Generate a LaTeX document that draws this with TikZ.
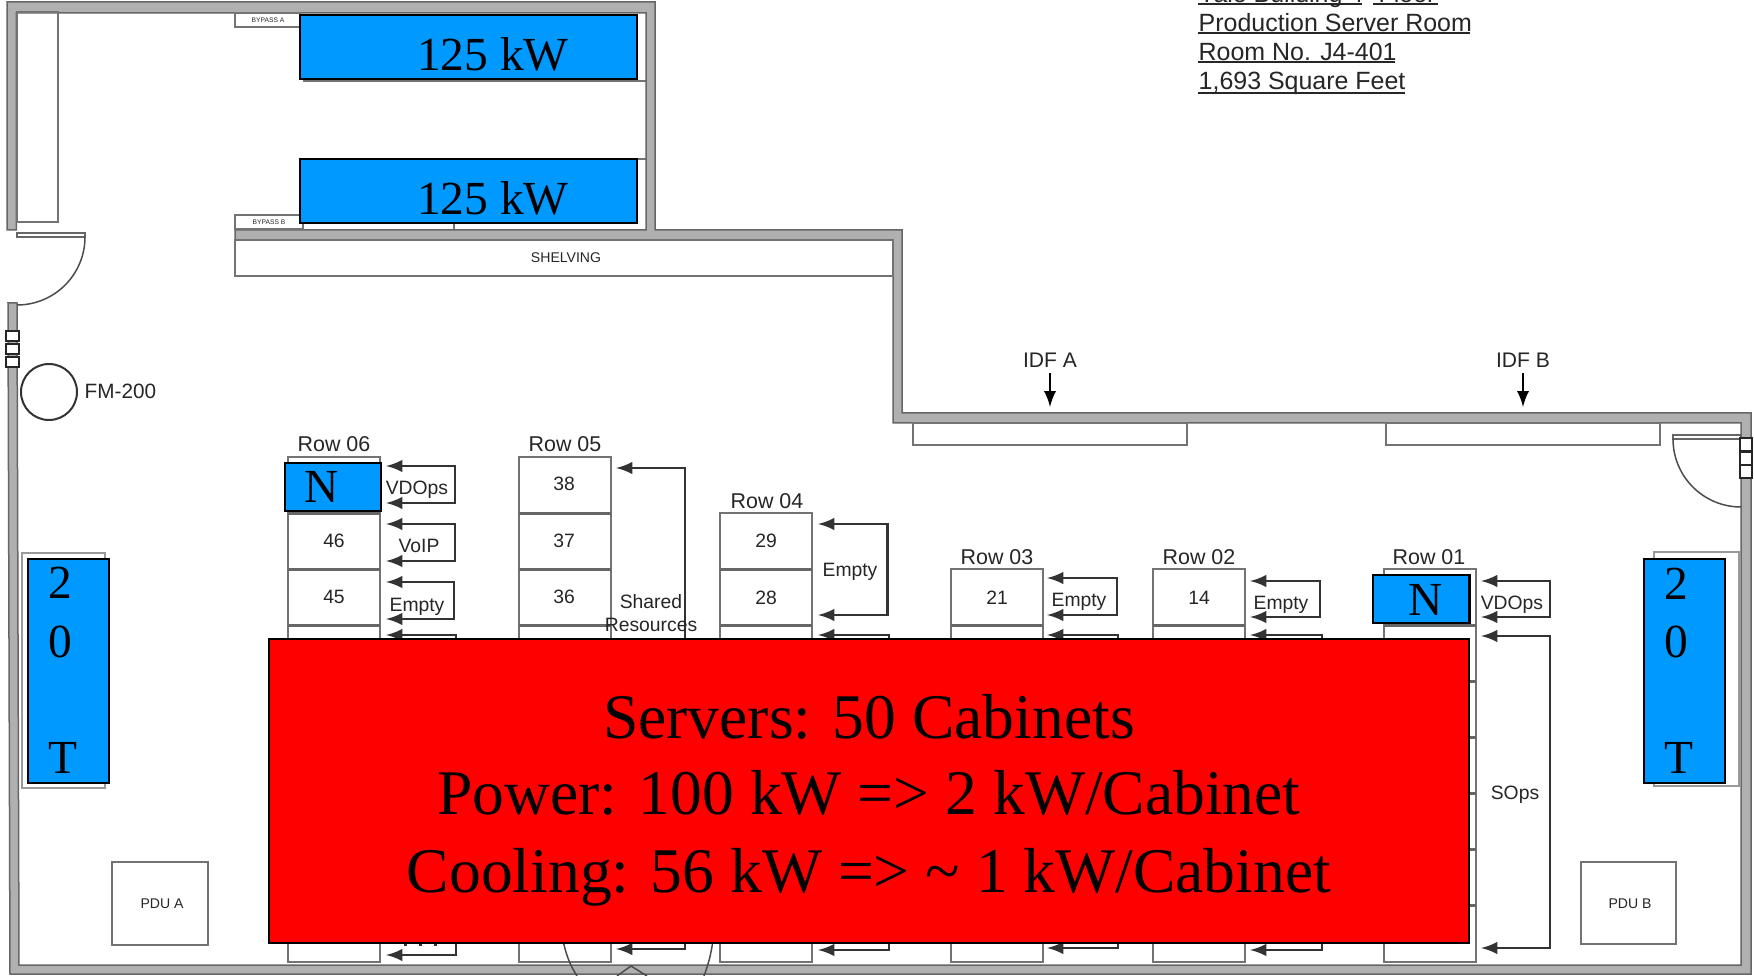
\documentclass[tikz,border=0pt]{standalone}
\usepackage{fontspec}
\setmainfont{Liberation Sans}
\newfontfamily\serifface{Liberation Serif}
\definecolor{wallgray}{HTML}{B0B0B0}
\definecolor{coolblue}{HTML}{0099FF}
\tikzset{
	label/.style={inner sep=0pt, text=black!85, font=\fontsize{5.5}{6.5}\selectfont},
	rowlabel/.style={label, font=\fontsize{6.1}{7}\selectfont},
	titlelabel/.style={label, anchor=base west, font=\fontsize{7.1}{8}\selectfont},
	bigtext/.style={inner sep=0pt, anchor=base, text=black, font=\serifface\fontsize{13.5}{15}\selectfont},
	redtext/.style={inner sep=0pt, anchor=base, text=black, font=\serifface\fontsize{18.1}{21}\selectfont},
	thinline/.style={line width=0.25mm, color=black!55},
	feed/.style={line width=0.22mm, color=black!80, latex-latex},
	coolbox/.style={fill=coolblue, draw=black, line width=0.22mm}
}

\begin{document}
\begin{tikzpicture}[y=-1cm]
	%%%%% START %%%%%
	\useasboundingbox (0, 0) rectangle (17.54, 9.76);
	\fill[white] (0, 0) rectangle (17.54, 9.76);

	% walls
	\draw[line width=0.15mm, color=black!60, fill=wallgray]
		(0.07, 2.30) -- (0.07, 0.02) -- (6.55, 0.02) -- (6.55, 2.30) -- (9.02, 2.30) -- (9.02, 4.13)
		-- (17.51, 4.13) -- (17.51, 9.74) -- (0.10, 9.74) -- (0.08, 3.03) -- (0.17, 3.03) -- (0.19, 9.65)
		-- (17.41, 9.65) -- (17.41, 4.23) -- (8.93, 4.23) -- (8.93, 2.40) -- (2.35, 2.40) -- (2.35, 2.30)
		-- (6.46, 2.30) -- (6.46, 0.13) -- (0.165, 0.13) -- (0.165, 2.30) -- cycle;

	% upper room
	\draw[thinline] (0.17, 0.12) rectangle (0.58, 2.22);
	\draw[thinline] (2.35, 0.13) rectangle (3.00, 0.27);
	\draw[thinline] (2.35, 2.15) rectangle (3.03, 2.29);
	\draw[thinline] (3.03, 0.81) -- (6.46, 0.81);
	\draw[thinline] (4.54, 0.79) -- (4.54, 0.81);
	\draw[thinline] (6.37, 1.59) -- (6.46, 1.59);
	\draw[thinline] (4.54, 2.23) -- (4.54, 2.29);
	\node[label, font=\fontsize{1.9}{2}\selectfont] (bypassa) at (2.68, 0.20) {BYPASS A};
	\node[label, font=\fontsize{1.9}{2}\selectfont] (bypassb) at (2.69, 2.22) {BYPASS B};
	\draw[coolbox] (3.00, 0.15) rectangle (6.37, 0.79);
	\draw[coolbox] (3.00, 1.59) rectangle (6.37, 2.23);
	\node[bigtext] (kwa) at (4.93, 0.71) {125 kW};
	\node[bigtext] (kwb) at (4.93, 2.15) {125 kW};

	% shelving
	\draw[thinline] (2.35, 2.40) rectangle (8.93, 2.76);
	\node[label, font=\fontsize{4}{5}\selectfont] (shelving) at (5.66, 2.58) {SHELVING};

	% left door, wall boxes, FM-200
	\draw[line width=0.15mm, color=black!60] (0.17, 2.33) rectangle (0.85, 2.37);
	\draw[line width=0.15mm, color=black!70] (0.85, 2.37) arc (0:90:0.68);
	\foreach \sy in {3.31, 3.44, 3.57} {
		\draw[line width=0.25mm, color=black!85, fill=white] (0.06, \sy) rectangle (0.19, \sy+0.10);
	}
	\draw[line width=0.2mm, color=black!80] (0.49, 3.92) circle (0.28);
	\node[label, anchor=west, font=\fontsize{5.9}{7}\selectfont] (fm) at (0.84, 3.91) {FM-200};

	% IDF
	\node[label, font=\fontsize{6}{7}\selectfont] (idfa) at (10.50, 3.60) {IDF A};
	\node[label, font=\fontsize{6}{7}\selectfont] (idfb) at (15.23, 3.60) {IDF B};
	\coordinate (idfatip) at (10.50, 4.07);
	\coordinate (idfbtip) at (15.23, 4.07);
	\draw[line width=0.2mm, -latex] (idfa.south) ++(0, 0.05) -- (idfatip);
	\draw[line width=0.2mm, -latex] (idfb.south) ++(0, 0.05) -- (idfbtip);
	\draw[thinline] (9.13, 4.23) rectangle (11.87, 4.45);
	\draw[thinline] (13.86, 4.23) rectangle (16.60, 4.45);

	% title
	\node[titlelabel] (titlea) at (11.98, 0.03) {Yale Building 4};
	\node[titlelabel] (titleb) at (13.78, 0.03) {Floor};
	\node[titlelabel] (titlec) at (11.98, 0.32) {Production Server Room};
	\node[titlelabel] (titled) at (11.98, 0.61) {Room No. J4-401};
	\node[titlelabel] (titlee) at (11.98, 0.90) {1,693 Square Feet};
	\draw[line width=0.2mm, color=black!85] (11.98, 0.04) -- (13.62, 0.04);
	\draw[line width=0.2mm, color=black!85] (13.73, 0.04) -- (14.38, 0.04);
	\draw[line width=0.2mm, color=black!85] (11.98, 0.33) -- (14.70, 0.33);
	\draw[line width=0.2mm, color=black!85] (11.98, 0.62) -- (13.95, 0.62);
	\draw[line width=0.2mm, color=black!85] (11.98, 0.93) -- (14.05, 0.93);

	% right door and wall boxes
	\draw[line width=0.15mm, color=black!60] (16.73, 4.35) rectangle (17.41, 4.39);
	\draw[line width=0.15mm, color=black!70] (16.73, 4.39) arc (180:90:0.68);
	\foreach \sy in {4.38, 4.52, 4.65} {
		\draw[line width=0.25mm, color=black!85, fill=white] (17.40, \sy) rectangle (17.52, \sy+0.13);
	}

	% cabinet rows
	\foreach \rx/\rtop/\rdivs in {2.88/4.57/{5.13,5.69,6.25}, 5.19/4.57/{5.13,5.69,6.25}, 7.20/5.13/{5.69,6.25},
		9.51/5.69/{6.25}, 11.53/5.69/{6.25}, 13.84/5.69/{6.25,6.81,7.37,7.93,8.49,9.05}} {
		\draw[thinline] (\rx, \rtop) rectangle (\rx+0.92, 9.62);
		\foreach \dy in \rdivs {
			\draw[line width=0.3mm, color=black!60] (\rx, \dy) -- (\rx+0.92, \dy);
		}
	}

	% row labels
	\node[rowlabel] (rowsix) at (3.34, 4.44) {Row 06};
	\node[rowlabel] (rowfive) at (5.65, 4.44) {Row 05};
	\node[rowlabel] (rowfour) at (7.67, 5.01) {Row 04};
	\node[rowlabel] (rowthree) at (9.97, 5.57) {Row 03};
	\node[rowlabel] (rowtwo) at (11.99, 5.57) {Row 02};
	\node[rowlabel] (rowone) at (14.29, 5.57) {Row 01};

	% cabinet numbers
	\node[label] (cabb) at (3.34, 5.41) {46};
	\node[label] (cabc) at (3.34, 5.97) {45};
	\node[label] (cabd) at (5.64, 4.84) {38};
	\node[label] (cabe) at (5.64, 5.41) {37};
	\node[label] (cabf) at (5.64, 5.97) {36};
	\node[label] (cabg) at (7.66, 5.41) {29};
	\node[label] (cabh) at (7.66, 5.98) {28};
	\node[label] (cabi) at (9.97, 5.98) {21};
	\node[label] (cabj) at (11.99, 5.98) {14};

	% feeds
	\foreach \tx/\rgt/\ya/\yb in {3.86/4.55/4.66/5.03, 3.86/4.55/5.24/5.61, 3.86/4.54/5.82/6.19, 3.86/4.56/6.35/9.55,
		6.16/6.85/4.68/9.49, 8.18/8.875/5.24/6.15, 8.18/8.89/6.35/9.50, 10.47/11.17/5.78/6.15, 10.47/11.18/6.35/9.48,
		12.50/13.20/5.81/6.17, 12.50/13.22/6.35/9.50, 14.81/15.50/5.81/6.17, 14.81/15.50/6.36/9.48} {
		\draw[feed] (\tx, \ya) -- (\rgt, \ya) -- (\rgt, \yb) -- (\tx, \yb);
	}
	\foreach \sx in {4.05, 4.20, 4.35} {
		\draw[line width=0.3mm, color=black!80] (\sx, 9.43) -- (\sx, 9.46);
	}
	\node[label] (vdopsa) at (4.17, 4.90) {VDOps};
	\node[label] (voip) at (4.19, 5.46) {VoIP};
	\node[label] (emptya) at (4.17, 6.07) {Empty};
	\node[label, align=center] (shareda) at (6.51, 6.02) {Shared};
	\node[label, align=center] (sharedb) at (6.51, 6.25) {Resources};
	\node[label] (emptyb) at (8.50, 5.72) {Empty};
	\node[label] (emptyc) at (10.79, 6.02) {Empty};
	\node[label] (emptyd) at (12.81, 6.05) {Empty};
	\node[label] (vdopsb) at (15.12, 6.05) {VDOps};
	\node[label] (sops) at (15.15, 7.95) {SOps};

	% PDU
	\draw[thinline] (1.12, 8.62) rectangle (2.08, 9.45);
	\draw[thinline] (15.81, 8.62) rectangle (16.76, 9.44);
	\node[label, font=\fontsize{4}{5}\selectfont] (pdua) at (1.62, 9.04) {PDU A};
	\node[label, font=\fontsize{4}{5}\selectfont] (pdub) at (16.30, 9.04) {PDU B};

	% bottom door
	\draw[line width=0.15mm, color=black!70] (5.63, 9.40) .. controls (5.66, 9.55) and (5.70, 9.65) .. (5.77, 9.76);
	\draw[line width=0.15mm, color=black!70] (7.13, 9.40) .. controls (7.11, 9.55) and (7.08, 9.65) .. (7.04, 9.76);
	\draw[line width=0.15mm, color=black!70] (6.17, 9.76) -- (6.31, 9.66) -- (6.47, 9.76);

	% cooling units
	\draw[line width=0.15mm, color=black!40] (0.22, 5.53) rectangle (1.05, 7.88);
	\draw[line width=0.15mm, color=black!40] (16.54, 5.52) rectangle (17.39, 7.86);
	\draw[coolbox] (0.28, 5.59) rectangle (1.09, 7.83);
	\draw[coolbox] (16.44, 5.59) rectangle (17.25, 7.83);
	\foreach \ch/\cx/\cy in {2/0.60/5.98, 0/0.60/6.57, T/0.63/7.73} {
		\node[bigtext] (left\ch) at (\cx, \cy) {\ch};
	}
	\foreach \ch/\cx/\cy in {2/16.76/5.99, 0/16.76/6.57, T/16.79/7.73} {
		\node[bigtext] (right\ch) at (\cx, \cy) {\ch};
	}
	\draw[coolbox] (2.85, 4.63) rectangle (3.81, 5.11);
	\draw[coolbox] (13.73, 5.75) rectangle (14.695, 6.23);
	\node[bigtext] (nsix) at (3.22, 5.03) {N};
	\node[bigtext] (none) at (14.26, 6.15) {N};

	% summary
	\draw[fill=red, line width=0.22mm] (2.69, 6.39) rectangle (14.69, 9.43);
	\node[redtext] (servers) at (8.69, 7.38) {Servers: 50 Cabinets};
	\node[redtext] (power) at (8.69, 8.15) {Power: 100 kW => 2 kW/Cabinet};
	\node[redtext] (cooling) at (8.69, 8.92) {Cooling: 56 kW => \textasciitilde{} 1 kW/Cabinet};

	%%%%% END %%%%%
\end{tikzpicture}
\end{document}
